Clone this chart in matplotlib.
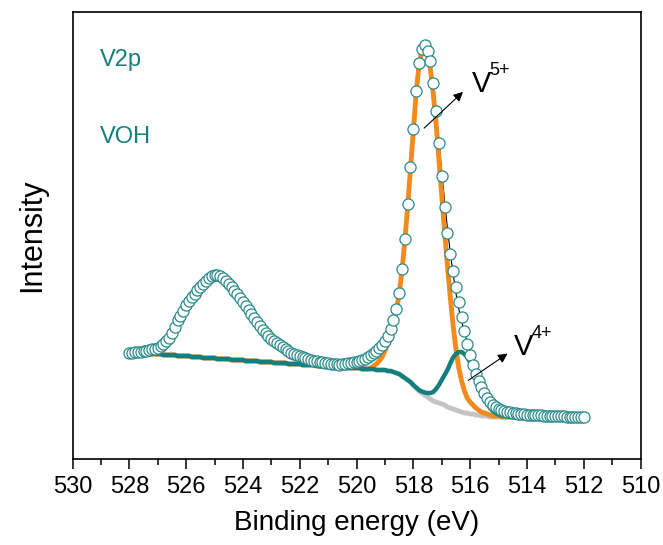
import numpy as np
import matplotlib
matplotlib.use("Agg")
import matplotlib.pyplot as plt
from matplotlib.ticker import MultipleLocator

plt.rcParams['font.family'] = ['Liberation Sans', 'DejaVu Sans']

# binding energy grid, 528 -> 512 eV, 0.1 eV step
energy = np.linspace(528.0, 512.0, 161)

# measured V2p spectrum (arb. units)
measured = [
    106, 106, 107, 107, 107, 108, 108, 109, 110, 110,
    111, 113, 115, 118, 121, 126, 132, 139, 143, 148,
    154, 158, 162, 165, 169, 172, 175, 178, 181, 183,
    184, 184, 183, 181, 178, 175, 172, 168, 165, 161,
    157, 153, 149, 145, 141, 137, 133, 129, 126, 123,
    120, 118, 116, 114, 112, 110, 108, 106, 105, 104,
    103, 102, 101, 100, 99, 98, 98, 97, 97, 96,
    96, 95, 95, 95, 94, 95, 95, 96, 96, 97,
    97, 98, 99, 100, 102, 104, 106, 108, 111, 114,
    118, 123, 130, 139, 150, 166, 190, 220, 255, 292,
    330, 368, 396, 410, 414, 408, 398, 376, 348, 316,
    283, 252, 226, 205, 188, 172, 157, 142, 128, 115,
    104, 94, 85, 78, 72, 66, 61, 57, 54, 52,
    50, 49, 48, 47, 47, 46, 46, 45, 45, 45,
    44, 44, 44, 44, 44, 44, 43, 43, 43, 43,
    43, 43, 43, 43, 42, 42, 42, 42, 42, 42,
    42,
]

# Shirley background
background = [
    106, 106, 106, 106, 106, 106, 105, 105, 105, 105,
    105, 105, 104, 104, 104, 104, 104, 103, 103, 103,
    103, 103, 102, 102, 102, 102, 101, 101, 101, 101,
    101, 100, 100, 100, 100, 100, 99, 99, 99, 99,
    99, 98, 98, 98, 98, 98, 97, 97, 97, 97,
    97, 96, 96, 96, 96, 96, 95, 95, 95, 95,
    95, 94, 94, 94, 94, 94, 93, 93, 93, 93,
    93, 92, 92, 92, 92, 92, 91, 91, 91, 91,
    91, 91, 90, 90, 90, 90, 90, 89, 89, 89,
    89, 88, 88, 87, 86, 85, 83, 81, 79, 77,
    74, 71, 68, 66, 64, 62, 60, 58, 57, 56,
    55, 54, 52, 51, 50, 49, 48, 47, 46, 46,
    45, 45, 44, 44, 43, 43, 43, 42, 42, 42,
    42, 42, 42, 42, 42, 42, 42, 42, 42, 42,
    42, 42, 41, 41, 41, 41, 41, 41, 41, 41,
    41, 41, 41, 41, 41, 41, 41, 41, 41, 41,
    41,
]

# V5+ component (on background)
v5_fit = [
    106, 106, 106, 106, 106, 106, 105, 105, 105, 105,
    105, 105, 104, 104, 104, 104, 104, 103, 103, 103,
    103, 103, 102, 102, 102, 102, 101, 101, 101, 101,
    101, 100, 100, 100, 100, 100, 99, 99, 99, 99,
    99, 98, 98, 98, 98, 98, 97, 97, 97, 97,
    97, 96, 96, 96, 96, 96, 95, 95, 95, 95,
    95, 94, 94, 94, 94, 94, 93, 93, 93, 93,
    93, 92, 92, 92, 92, 92, 91, 91, 91, 91,
    91, 91, 90, 90, 90, 91, 93, 95, 98, 102,
    108, 115, 124, 135, 148, 165, 188, 218, 252, 290,
    328, 366, 394, 408, 412, 405, 390, 366, 336, 300,
    264, 228, 194, 162, 134, 110, 91, 78, 68, 61,
    57, 54, 51, 49, 47, 46, 45, 44, 43, 43,
    43, 42, 42, 42, 42, 42, 42, 42, 42, 42,
    42, 42, 41, 41, 41, 41, 41, 41, 41, 41,
    41, 41, 41, 41, 41, 41, 41, 41, 41, 41,
    41,
]

# V4+ component (on background)
v4_fit = [
    106, 106, 106, 106, 106, 106, 105, 105, 105, 105,
    105, 105, 104, 104, 104, 104, 104, 103, 103, 103,
    103, 103, 102, 102, 102, 102, 101, 101, 101, 101,
    101, 100, 100, 100, 100, 100, 99, 99, 99, 99,
    99, 98, 98, 98, 98, 98, 97, 97, 97, 97,
    97, 96, 96, 96, 96, 96, 95, 95, 95, 95,
    95, 94, 94, 94, 94, 94, 93, 93, 93, 93,
    93, 92, 92, 92, 92, 92, 91, 91, 91, 91,
    91, 91, 90, 90, 90, 90, 90, 89, 89, 89,
    89, 88, 88, 87, 86, 85, 83, 81, 79, 77,
    74, 71.5, 69, 67.5, 66.5, 66, 66, 67, 70, 74,
    79, 84, 89, 95.5, 101.5, 105, 107, 107, 105, 102,
    96.5, 89.5, 81, 74, 67, 61, 56, 51, 48, 46,
    44.5, 43.5, 43, 42.5, 42, 42, 42, 42, 42, 42,
    42, 42, 41, 41, 41, 41, 41, 41, 41, 41,
    41, 41, 41, 41, 41, 41, 41, 41, 41, 41,
    41,
]

bg = np.array(background, dtype=float)
envelope = np.array(v5_fit) + np.array(v4_fit) - bg

teal = '#12807e'
fig = plt.figure(figsize=(6.63, 5.45), dpi=100)
ax = fig.add_axes([0.1094, 0.1578, 0.8567, 0.8202])

ax.plot(energy, background, color='#c4c4c4', lw=3.5, zorder=2)
ax.plot(energy, envelope, color='black', lw=0.8, zorder=2.5)
ax.plot(energy, v5_fit, color='#f28a1c', lw=3.5, zorder=3)
ax.plot(energy, v4_fit, color=teal, lw=3.2, zorder=4)
ax.plot(energy, measured, 'o', ms=8, mfc='white', mec='#2a8a8a', mew=0.9,
        ls='none', zorder=6)

ax.set_xlim(530, 510)
ax.set_ylim(0, 447)
ax.xaxis.set_major_locator(MultipleLocator(2))
ax.xaxis.set_minor_locator(MultipleLocator(1))
ax.set_yticks([])
ax.tick_params(axis='x', which='major', direction='out', length=7, width=1.1,
               labelsize=17, pad=5)
ax.tick_params(axis='x', which='minor', direction='out', length=4, width=1.1)
for sp in ax.spines.values():
    sp.set_linewidth(1.2)

ax.set_xlabel('Binding energy (eV)', fontsize=20, labelpad=9)
ax.set_ylabel('Intensity', fontsize=22, labelpad=18)

ax.text(529.03, 393, 'V2p', color=teal, fontsize=17, va='baseline', ha='left')
ax.text(529.03, 316, 'VOH', color=teal, fontsize=17, va='baseline', ha='left')

# V5+ label and arrow
ax.annotate('', xy=(516.18, 369), xytext=(517.69, 329),
            arrowprops=dict(arrowstyle='-|>', color='black', lw=0.8,
                            mutation_scale=14), zorder=7)
ax.text(515.95, 367, 'V', fontsize=21, va='baseline', ha='left')
ax.text(515.33, 384, '5+', fontsize=13, va='baseline', ha='left')

# V4+ label and arrow
ax.annotate('', xy=(514.6, 107), xytext=(516.15, 77),
            arrowprops=dict(arrowstyle='-|>', color='black', lw=0.8,
                            mutation_scale=14), zorder=7)
ax.text(514.45, 104, 'V', fontsize=21, va='baseline', ha='left')
ax.text(513.83, 121, '4+', fontsize=13, va='baseline', ha='left')

fig.savefig('out.png', dpi=100)
